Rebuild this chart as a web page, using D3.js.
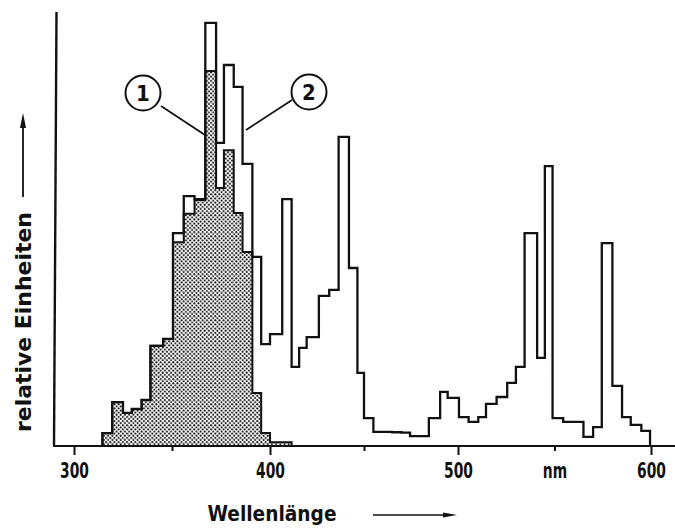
<!DOCTYPE html>
<html><head><meta charset="utf-8">
<script src="https://cdn.jsdelivr.net/npm/d3@7"></script>
<style>body{margin:0;background:#fff}</style>
</head><body>
<svg id="c" width="675" height="529" xmlns="http://www.w3.org/2000/svg"></svg>
<script>
// Bin edges (nm) (roughly 5 nm bins)
const binEdges = [314.5,319.5,325,329.5,334.5,339,345.5,350.5,356,361.5,367,372.5,376.5,381.5,386,391,395.5,400,406.5,411.5,415.5,419.5,426,431.5,436.5,442,446.5,450,455,460,465,470,474.5,479.5,484.5,490.5,494.5,500.5,505.5,510.5,514.5,520,525.5,530,534.5,541,545,549,554.5,559.5,565,570,574.5,580,585,589.5,595,599.5];
// Curve 2 (outline), relative units 0..100
const series2 = [3.0,10.2,7.7,8.6,10.7,23.3,24.9,49.5,58.1,57.4,98.4,70.5,88.6,83.5,65.6,44.0,23.7,26.0,57.4,18.4,22.8,25.3,34.9,36.3,71.9,41.4,17.0,6.5,3.3,3.3,3.2,3.1,2.3,2.3,6.5,12.6,11.2,6.7,5.6,6.7,9.8,11.4,14.7,18.4,49.5,20.5,65.1,6.5,5.6,5.6,2.1,4.4,47.2,14.0,6.7,4.9,3.5];
// Curve 1 (shaded), first bins only
const series1 = [3.0,10.2,7.7,8.6,10.7,23.3,24.9,47.4,54.0,57.2,87.2,60.0,68.8,54.2,45.1,12.3,3.0,0.9,0.9];
const majorTicks = [300,400,500,600];
const majorLabels = ["300","400","500","600"];
const minorTicks = [350,450,550];
const minorLabels = ["","","nm"];
const xTitle = "Wellenlänge";
const yTitle = "relative  Einheiten";
const curveLabels = ["1","2"];

const svg = d3.select("#c");
const x = d3.scaleLinear().domain([300,400,500,600]).range([74,270,458,651]);
const y = d3.scaleLinear().domain([0,100]).range([446,16]);
const FONT = "'DejaVu Sans Condensed','DejaVu Sans',sans-serif";

// dot pattern
const defs = svg.append("defs");
const pat = defs.append("pattern").attr("id","dots").attr("patternUnits","userSpaceOnUse")
  .attr("width",4.2).attr("height",4.2);
pat.append("rect").attr("width",4.2).attr("height",4.2).attr("fill","#fff");
pat.append("circle").attr("cx",1.05).attr("cy",1.05).attr("r",1.0).attr("fill","#111");
pat.append("circle").attr("cx",3.15).attr("cy",3.15).attr("r",1.0).attr("fill","#111");

function stepPoints(vals){
  const pts=[[binEdges[0],0]];
  vals.forEach((v,i)=>{pts.push([binEdges[i],v]);pts.push([binEdges[i+1],v]);});
  pts.push([binEdges[vals.length],0]);
  return pts;
}
const line = d3.line().x(d=>x(d[0])).y(d=>y(d[1]));

// shaded curve 1
svg.append("path").attr("d",line(stepPoints(series1))+"Z")
  .attr("fill","url(#dots)").attr("stroke","#111").attr("stroke-width",2).attr("stroke-linejoin","miter");
// curve 2 outline
svg.append("path").attr("d",line(stepPoints(series2)))
  .attr("fill","none").attr("stroke","#111").attr("stroke-width",2.3).attr("stroke-linejoin","miter");

// axes lines
svg.append("line").attr("x1",53).attr("x2",675).attr("y1",y(0)).attr("y2",y(0))
  .attr("stroke","#111").attr("stroke-width",2.2);
svg.append("line").attr("x1",56.5).attr("x2",54).attr("y1",12).attr("y2",y(0))
  .attr("stroke","#111").attr("stroke-width",2.4);

const gMaj = svg.append("g").attr("transform",`translate(0,${y(0)})`)
  .call(d3.axisBottom(x).tickValues(majorTicks).tickSize(9).tickPadding(7)
    .tickFormat((d,i)=>majorLabels[i]));
const gMin = svg.append("g").attr("transform",`translate(0,${y(0)})`)
  .call(d3.axisBottom(x).tickValues(minorTicks).tickSize(5).tickPadding(11)
    .tickFormat((d,i)=>minorLabels[i]));
[gMaj,gMin].forEach(g=>{
  g.select(".domain").remove();
  g.selectAll("line").attr("stroke","#111").attr("stroke-width",2);
  g.selectAll("text").attr("font-family",FONT).attr("font-size",22).attr("font-weight","bold").attr("fill","#111")
    .attr("transform","scale(0.7,1)");
});

// x title + arrow
svg.append("text").attr("x",272).attr("y",521).attr("text-anchor","middle")
  .attr("font-family",FONT).attr("font-size",21).attr("font-weight","bold").attr("fill","#111")
  .attr("textLength",129).attr("lengthAdjust","spacingAndGlyphs").text(xTitle);
svg.append("line").attr("x1",373).attr("x2",446).attr("y1",515).attr("y2",515).attr("stroke","#111").attr("stroke-width",1.6);
svg.append("path").attr("d","M443,512.5 L457,515 L443,517.5 Z").attr("fill","#111");

// y title + arrow
svg.append("text").attr("transform","translate(31,322) rotate(-90)").attr("text-anchor","middle")
  .attr("font-family",FONT).attr("font-size",21).attr("font-weight","bold").attr("fill","#111")
  .attr("textLength",220).attr("lengthAdjust","spacingAndGlyphs").text(yTitle);
svg.append("line").attr("x1",23).attr("x2",23).attr("y1",197).attr("y2",125).attr("stroke","#111").attr("stroke-width",1.8);
svg.append("path").attr("d","M20,128 L23,113 L26,128 Z").attr("fill","#111");

// circled labels with leaders
const callouts = [
  {label:curveLabels[0], cx:143, cy:93, lx1:161, ly1:106, lx2:205, ly2:135},
  {label:curveLabels[1], cx:309, cy:92, lx1:292, ly1:100, lx2:246, ly2:130}
];
callouts.forEach(c=>{
  svg.append("line").attr("x1",c.lx1).attr("y1",c.ly1).attr("x2",c.lx2).attr("y2",c.ly2).attr("stroke","#111").attr("stroke-width",1.8);
  svg.append("circle").attr("cx",c.cx).attr("cy",c.cy).attr("r",17.5).attr("fill","#fff").attr("stroke","#111").attr("stroke-width",2);
  svg.append("text").attr("x",c.cx).attr("y",c.cy+8).attr("text-anchor","middle")
    .attr("font-family",FONT).attr("font-size",22).attr("font-weight","bold").attr("fill","#111").text(c.label);
});
</script>
</body></html>
